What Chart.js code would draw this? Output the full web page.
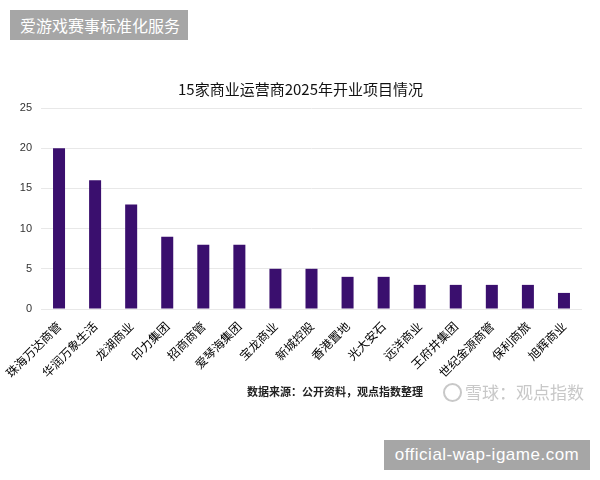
<!DOCTYPE html>
<html>
<head>
<meta charset="utf-8">
<script src="https://cdn.jsdelivr.net/npm/chart.js@4.4.1/dist/chart.umd.min.js"></script>
<style>
  html, body { margin: 0; padding: 0; background: #fff; }
  #wrap { position: relative; width: 600px; height: 480px; overflow: hidden; font-family: "Noto Sans CJK SC", "Noto Sans", sans-serif; }
  #c { position: absolute; left: 0; top: 0; }
  .box { position: absolute; background: #a6a6a6; color: #fff; white-space: nowrap; }
  #tl { left: 10px; top: 10px; width: 178px; height: 30px; line-height: 30px; font-size: 16px; text-indent: 10px; }
  #br { left: 384px; top: 440px; width: 206px; height: 30px; line-height: 30px; font-size: 17px; text-align: center; font-family: "Liberation Sans", Arial, sans-serif; letter-spacing: 0.5px; }
  #title { position: absolute; left: 178px; top: 78px; width: 240px; text-align: center; font-size: 15px; color: #111; white-space: nowrap; }
  #src { position: absolute; left: 247px; top: 383px; font-size: 11px; color: #222; font-weight: bold; white-space: nowrap; }
  #wm { position: absolute; left: 443px; top: 379px; font-size: 17px; color: #c8c8c8; white-space: nowrap; }
  #wm .ic { display: inline-block; width: 15px; height: 15px; border: 2px solid #c8c8c8; border-radius: 50%; vertical-align: -3px; margin-right: 3px; }
</style>
</head>
<body>
<div id="wrap">
  <canvas id="c" width="600" height="480"></canvas>
  <div id="title">15家商业运营商2025年开业项目情况</div>
  <div id="src">数据来源：公开资料，观点指数整理</div>
  <div id="wm"><span class="ic"></span>雪球：观点指数</div>
  <div class="box" id="tl">爱游戏赛事标准化服务</div>
  <div class="box" id="br">official-wap-igame.com</div>
</div>
<script>
const categories = ["珠海万达商管","华润万象生活","龙湖商业","印力集团","招商商管","爱琴海集团","宝龙商业","新城控股","香港置地","光大安石","远洋商业","王府井集团","世纪金源商管","保利商旅","旭辉商业"];
const projects = [20,16,13,9,8,8,5,5,4,4,3,3,3,3,2];
const yTicks = [0,5,10,15,20,25];

new Chart(document.getElementById('c'), {
  type: 'bar',
  data: {
    labels: categories,
    datasets: [{
      data: projects,
      backgroundColor: '#3a0f6e',
      borderWidth: 0,
      barPercentage: 0.9,
      categoryPercentage: 0.37
    }]
  },
  options: {
    responsive: false,
    animation: false,
    devicePixelRatio: 1,
    layout: { padding: { top: 108, right: 18, bottom: 0, left: 0 } },
    plugins: { legend: { display: false }, title: { display: false }, tooltip: { enabled: false } },
    scales: {
      x: {
        grid: { display: false },
        border: { display: false },
        ticks: {
          minRotation: 45, maxRotation: 45, autoSkip: false,
          font: { size: 12, family: '"Noto Sans CJK SC", sans-serif' },
          color: '#000', padding: 2
        },
        afterFit: (s) => { s.height = 171; }
      },
      y: {
        min: 0, max: 25,
        afterBuildTicks: (s) => { s.ticks = yTicks.map(v => ({ value: v })); },
        grid: { color: '#e8e8e8', drawTicks: false, lineWidth: 1 },
        border: { display: false },
        ticks: {
          font: { size: 11, family: '"Liberation Sans", Arial, sans-serif' },
          color: '#333', padding: 9
        },
        afterFit: (s) => { s.width = 41; }
      }
    }
  }
});
</script>
</body>
</html>
